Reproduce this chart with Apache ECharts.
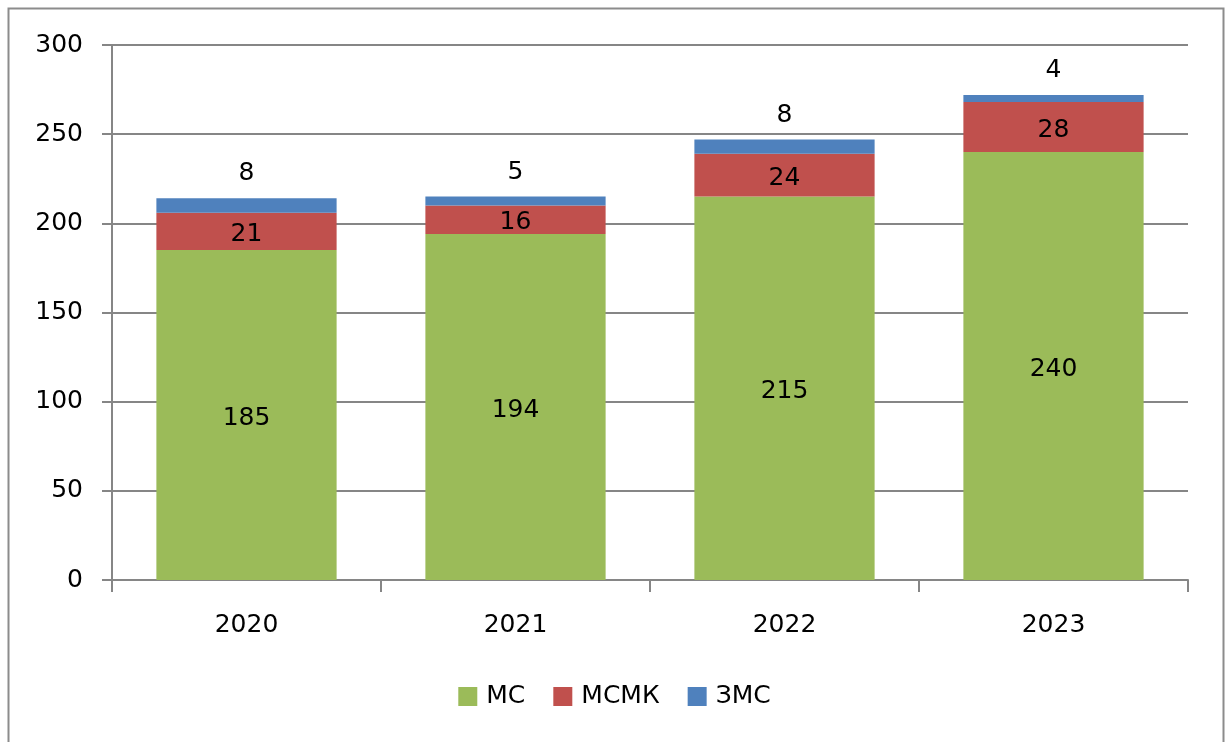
<!DOCTYPE html>
<html>
<head>
<meta charset="utf-8">
<script src="https://cdn.jsdelivr.net/npm/echarts@6/dist/echarts.min.js"></script>
<style>
  html, body { margin: 0; padding: 0; background: #fff; }
  #chart { width: 1229px; height: 742px; }
</style>
</head>
<body>
<div id="chart"></div>
<script>
// данные
const years = ['2020', '2021', '2022', '2023']
const ms = [185, 194, 215, 240]     // МС
const msmk = [21, 16, 24, 28]       // МСМК
const zms = [8, 5, 8, 4]            // ЗМС
const yTicks = [0, 50, 100, 150, 200, 250, 300]

const font = 'DejaVu Sans'
const fs = 25
const chart = echarts.init(document.getElementById('chart'))

chart.setOption({
  animation: false,
  textStyle: { fontFamily: font },
  graphic: [{
    type: 'rect',
    shape: { x: 8.5, y: 8.5, width: 1215, height: 740 },
    style: { fill: 'none', stroke: '#8c8c8c', lineWidth: 2 }
  }],
  grid: { left: 112, right: 41, top: 45, bottom: 162 },
  legend: {
    data: ['МС', 'МСМК', 'ЗМС'],
    top: 679,
    left: 'center',
    icon: 'rect',
    itemWidth: 19,
    itemHeight: 19,
    itemGap: 28,
    textStyle: { fontSize: fs, color: '#000', fontFamily: font, padding: [0, 0, 0, 4] }
  },
  xAxis: {
    type: 'category',
    data: years,
    axisLine: { lineStyle: { color: '#868686', width: 2 } },
    axisTick: { show: true, length: 12, interval: 0, lineStyle: { color: '#868686', width: 2 } },
    axisLabel: { fontSize: fs, color: '#000', margin: 33 }
  },
  yAxis: {
    type: 'value',
    min: yTicks[0],
    max: yTicks[yTicks.length - 1],
    interval: 50,
    axisLine: { show: true, lineStyle: { color: '#868686', width: 2 } },
    axisTick: { show: true, inside: false, length: 10, lineStyle: { color: '#868686', width: 2 } },
    splitLine: { lineStyle: { color: '#868686', width: 2 } },
    axisLabel: { fontSize: fs, color: '#000', margin: 29 }
  },
  series: [
    {
      name: 'МС', type: 'bar', stack: 'all', data: ms, barWidth: '67%',
      itemStyle: { color: '#9BBB59' },
      label: { show: true, position: 'inside', fontSize: fs, color: '#000', offset: [0, 3] }
    },
    {
      name: 'МСМК', type: 'bar', stack: 'all', data: msmk,
      itemStyle: { color: '#C0504D' },
      label: { show: true, position: 'inside', fontSize: fs, color: '#000', offset: [0, 3] }
    },
    {
      name: 'ЗМС', type: 'bar', stack: 'all', data: zms,
      itemStyle: { color: '#4F81BD' },
      label: { show: true, position: 'top', distance: 12, fontSize: fs, color: '#000' }
    }
  ]
})
</script>
</body>
</html>
